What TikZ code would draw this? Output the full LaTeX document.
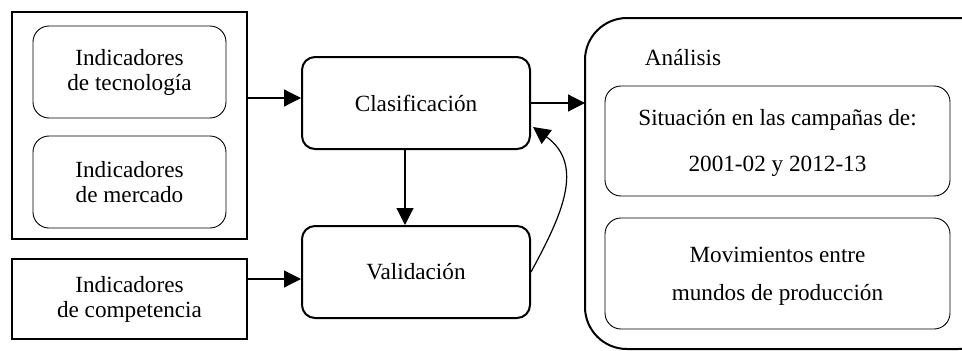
\documentclass[tikz,border=0pt]{standalone}
\usepackage{fontspec}
\setmainfont{Liberation Serif}
\usetikzlibrary{arrows.meta,calc}
\begin{document}
\begin{tikzpicture}[x=1pt,y=-1pt,
  every node/.style={font=\fontsize{23.2}{25}\selectfont, align=center, inner sep=0pt},
  thickbox/.style={draw, line width=2pt, rectangle},
  procbox/.style={draw, line width=2pt, rectangle, rounded corners=13pt},
  thinbox/.style={draw, line width=0.9pt, rectangle, rounded corners=16pt},
  arr/.style={line width=1.2pt, -{Triangle[length=17pt,width=17pt]}}
]
\useasboundingbox (0,0) rectangle (962,351);
\clip (0,0) rectangle (962,351);
% left group
\node[thickbox, minimum width=235pt, minimum height=227pt] (grp) at (129.5,125.5) {};
\node[thinbox, minimum width=193pt, minimum height=92pt] (tec) at (129.5,72) {Indicadores\\de tecnología};
\node[thinbox, minimum width=193pt, minimum height=92pt] (mer) at (129.5,182) {Indicadores\\de mercado};
\node[thickbox, minimum width=235pt, minimum height=80pt] (comp) at (129.5,299) {Indicadores\\de competencia};
% process
\node[procbox, minimum width=228pt, minimum height=92pt] (cla) at (416,103) {Clasificación};
\node[procbox, minimum width=228pt, minimum height=92pt] (val) at (416,272) {Validación};
% analysis
\coordinate (anaw) at (585,183.5);
\draw[line width=2pt, rounded corners=42pt] (585,18) rectangle (1000,349);
\node[anchor=center] (anat) at (683,58) {Análisis};
\node[thinbox, minimum width=345pt, minimum height=110pt] (sit) at (777.5,141) {};
\node (sit1) at (777.5,120) {Situación en las campañas de:};
\node (sit2) at (777.5,166) {2001-02 y 2012-13};
\node[thinbox, minimum width=345pt, minimum height=111pt] (mov) at (777.5,273.5) {};
\node (mov1) at (777.5,255) {Movimientos entre};
\node (mov2) at (777.5,295) {mundos de producción};
% connectors
\coordinate (a1) at ($(cla.west)+(0,-5)$);
\draw[arr] (grp.east |- a1) -- (a1);
\coordinate (a2) at ($(val.west)+(0,7)$);
\draw[arr] (comp.east |- a2) -- (a2);
\draw[arr] (cla.east) -- (cla.east -| anaw);
\coordinate (d1) at ($(cla.south)+(-11,0)$);
\draw[arr] (d1) -- (d1 |- val.north);
\coordinate (cend) at ($(cla.east)+(2,24)$);
\draw[arr] (val.east) .. controls (562,215) and (585,165) .. (cend);
\end{tikzpicture}
\end{document}
